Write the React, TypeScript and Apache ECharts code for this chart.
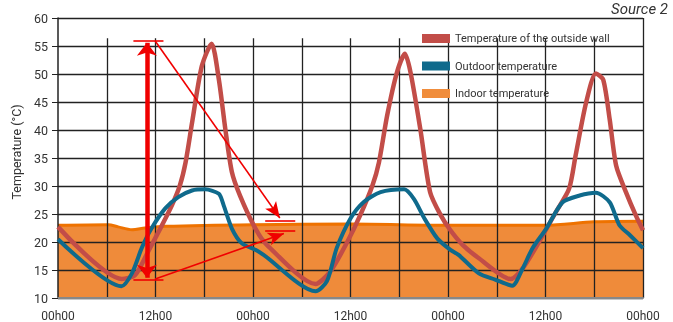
import React, { useEffect, useRef } from "react";
import * as echarts from "echarts";

// [hour, °C]
const wallTemps: number[][] = [
  [0, 22.7], [7.85, 13.4], [9.5, 14.1], [11.1, 18.3], [12.8, 23], [14, 26.5], [15, 30.1], [15.7, 34.2],
  [16.5, 41.3], [17.7, 51.4], [18.9, 55.4], [19.8, 49], [20.6, 40.1], [21.4, 32.5], [22.4, 28.3],
  [24.3, 22.4], [25.7, 19.5], [31.7, 12.5], [33.5, 14.7], [35.6, 20], [37.2, 24.8], [38.7, 30.1],
  [39.5, 34.2], [40.5, 42.5], [41.7, 50.2], [42.7, 53.6], [43.4, 50.2], [44.6, 40.1], [45.8, 28.9],
  [47.1, 24.8], [48.3, 22.1], [49.8, 19.5], [51.8, 17.1], [55.7, 13.4], [57.2, 15.3], [59.2, 20],
  [61.3, 25.4], [62.9, 29.5], [63.7, 35.4], [65, 44.9], [66.2, 50.1], [67.1, 49], [67.9, 41.9],
  [68.7, 33.6], [69.9, 28.9], [71.1, 24.8], [72, 22.1],
];

const outdoorTemps: number[][] = [
  [0, 20.5], [7.8, 12.1], [9.1, 14.4], [10.3, 18.9], [11.5, 22.4], [13.2, 26], [14.8, 28], [16.5, 29.2],
  [18.1, 29.4], [19.8, 28.6], [20.4, 26.5], [21.4, 22.4], [22.6, 19.8], [24.3, 18.6], [25.3, 17.7],
  [31.7, 11.2], [33.1, 13], [34.3, 18.9], [36, 24.2], [37.6, 27.1], [39.7, 28.9], [42.6, 29.4],
  [43.8, 27.7], [45.1, 24.2], [46.7, 20.6], [48.3, 18.6], [49.3, 17.7], [51.8, 14.4], [53.8, 13.3],
  [55.9, 12.2], [57.2, 15.3], [58.4, 18.9], [60.1, 22.4], [62.1, 27.1], [64.2, 28.3], [66.2, 28.8],
  [67.9, 27.1], [69.1, 23], [70.4, 21.2], [72, 18.9],
];

const indoorTemps: number[][] = [
  [0, 23], [6.2, 23.1], [7.4, 22.7], [9.1, 22.2], [10.7, 22.5], [13.2, 22.8], [24, 23.1], [36, 23.2],
  [48, 23], [60, 23], [66, 23.6], [72, 23.7],
];

const seriesNames = ["Temperature of the outside wall", "Outdoor temperature", "Indoor temperature"];
const verticalGridHours = [6, 12, 18, 24, 30, 36, 42, 48, 54, 60, 66];
const verticalGridTop = 56.4;

// annotation segments: [[x1, y1], [x2, y2]]
const doubleArrow = [[10.94, 13.6], [10.94, 55.6]];
const tickLines = [
  [[9.28, 56.0], [12.98, 56.0]],
  [[9.28, 13.25], [12.98, 13.25]],
  [[25.5, 23.72], [29.2, 23.72]],
  [[25.5, 22.0], [29.2, 22.0]],
];
const thinArrows = [
  [[11.96, 55.9], [27.3, 24.3]],
  [[11.96, 13.4], [27.8, 21.5]],
];

const fmtHour = (v: number) => (v % 24 === 0 ? "00h00" : "12h00");

export default function App() {
  const ref = useRef<HTMLDivElement>(null);
  useEffect(() => {
    if (!ref.current) return;
    const chart = echarts.init(ref.current, null, { renderer: "svg" });
    const font = "Roboto";
    const gridLineData: any[] = verticalGridHours.map((h) => [
      { coord: [h, 10] },
      { coord: [h, verticalGridTop] },
    ]);
    gridLineData.push([{ coord: [72, 10] }, { coord: [72, 60] }]);

    const seg = (s: number[][]) => [{ coord: s[0] }, { coord: s[1] }];

    chart.setOption({
      animation: false,
      title: {
        text: "Source 2",
        right: 5,
        top: 1,
        padding: 0,
        textStyle: { fontStyle: "italic", fontWeight: "normal", fontSize: 15, color: "#333", fontFamily: font },
      },
      legend: {
        orient: "vertical",
        left: 417,
        top: 28,
        itemWidth: 28,
        itemHeight: 9,
        itemGap: 16.5,
        icon: "rect",
        textStyle: { fontSize: 11, color: "#333", fontFamily: font },
        data: [
          { name: seriesNames[0], itemStyle: { color: "#c24d48" } },
          { name: seriesNames[1], itemStyle: { color: "#0f6a8c" } },
          { name: seriesNames[2], itemStyle: { color: "#f08d3c" } },
        ],
      },
      grid: { left: 58, right: 30, top: 18, bottom: 22 },
      xAxis: {
        type: "value",
        min: 0,
        max: 72,
        interval: 12,
        z: 2,
        axisLine: { lineStyle: { color: "#888", width: 2 } },
        axisTick: { show: false },
        splitLine: { show: false },
        axisLabel: { formatter: fmtHour, fontSize: 12, color: "#333", margin: 12, fontFamily: font },
      },
      yAxis: {
        type: "value",
        min: 10,
        max: 60,
        interval: 5,
        z: 2,
        name: "Temperature (°C)",
        nameLocation: "middle",
        nameGap: 32,
        nameTextStyle: { fontSize: 12.5, color: "#333", fontFamily: font, padding: [0, 0, 0, 12] },
        axisLine: { show: true, lineStyle: { color: "#222", width: 1.5 } },
        axisTick: { show: true, length: 6, lineStyle: { color: "#222" } },
        axisLabel: { fontSize: 12.5, color: "#333", margin: 10, fontFamily: font },
        splitLine: { show: true, lineStyle: { color: "#222", width: 1.3 } },
      },
      series: [
        {
          name: seriesNames[0],
          type: "line",
          data: wallTemps,
          smooth: 0.25,
          showSymbol: false,
          z: 3,
          lineStyle: { color: "#c24d48", width: 4.5, join: "round" },
          itemStyle: { color: "#c24d48" },
        },
        {
          name: seriesNames[1],
          type: "line",
          data: outdoorTemps,
          smooth: 0.25,
          showSymbol: false,
          z: 3,
          lineStyle: { color: "#0f6a8c", width: 4, join: "round" },
          itemStyle: { color: "#0f6a8c" },
        },
        {
          name: seriesNames[2],
          type: "line",
          data: indoorTemps,
          smooth: 0.3,
          showSymbol: false,
          z: 1,
          lineStyle: { color: "#ee7200", width: 3 },
          itemStyle: { color: "#f08d3c" },
          areaStyle: { color: "#ef8b3a", opacity: 1, origin: "start" },
        },
        {
          name: "gridlines",
          type: "line",
          data: [],
          silent: true,
          markLine: {
            silent: true,
            z: 2,
            symbol: ["none", "none"],
            label: { show: false },
            emphasis: { disabled: true },
            lineStyle: { color: "#222", width: 1.3, type: "solid" },
            data: gridLineData,
          },
        },
        {
          name: "annotations",
          type: "line",
          data: [],
          silent: true,
          markLine: {
            silent: true,
            z: 4,
            symbol: ["none", "none"],
            label: { show: false },
            emphasis: { disabled: true },
            lineStyle: { color: "#f00000", width: 1.6, type: "solid" },
            data: [
              ...tickLines.map((s) => seg(s)),
              ...thinArrows.map((s) => [
                { coord: s[0], symbol: "none" },
                { coord: s[1], symbol: "arrow", symbolSize: [10, 16] },
              ]),
              [
                { coord: doubleArrow[0], symbol: "arrow", symbolSize: [15, 13], lineStyle: { width: 4.5 } },
                { coord: doubleArrow[1], symbol: "arrow", symbolSize: [15, 13] },
              ],
            ],
          },
        },
      ],
    });
    return () => chart.dispose();
  }, []);
  return <div ref={ref} style={{ position: "fixed", left: 0, top: 0, width: 673, height: 322 }} />;
}
